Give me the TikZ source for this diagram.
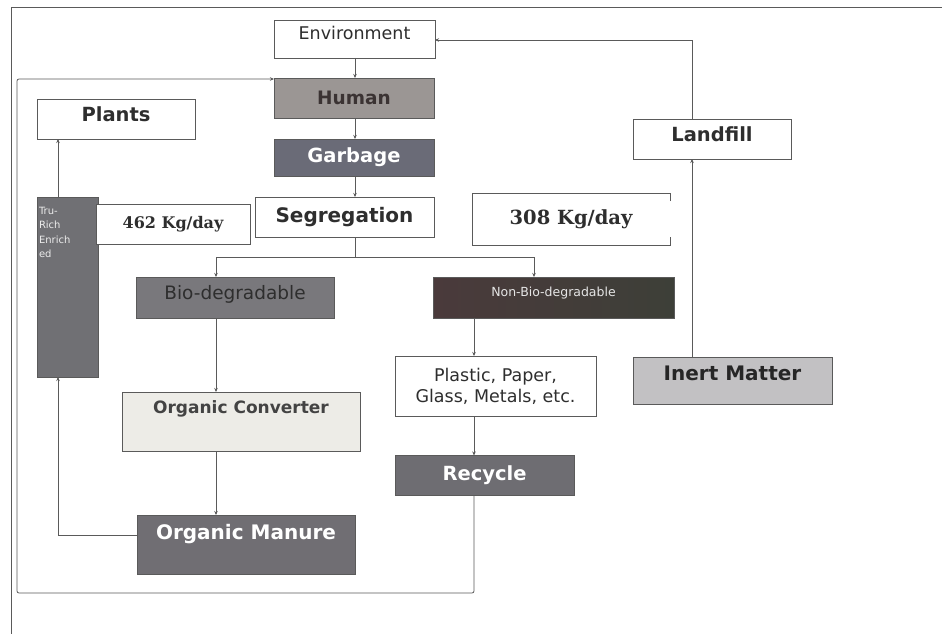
\documentclass[tikz,border=0pt]{standalone}
\usepackage{fontspec}
\setmainfont{DejaVu Sans}
\newfontfamily\serifb{DejaVu Serif}
\usetikzlibrary{arrows.meta,calc}
\definecolor{linec}{HTML}{5A5A5A}
\definecolor{humanfill}{HTML}{9B9694}
\definecolor{garbfill}{HTML}{6A6B77}
\definecolor{trufill}{HTML}{707074}
\definecolor{biofill}{HTML}{79787C}
\definecolor{nonbiofill}{HTML}{4A3A3B}
\definecolor{nonbiofillr}{HTML}{3D3F38}
\definecolor{recyfill}{HTML}{6E6D72}
\definecolor{manfill}{HTML}{706E73}
\definecolor{inertfill}{HTML}{C2C1C3}
\definecolor{convfill}{HTML}{EDECE7}
\definecolor{txtdark}{HTML}{2E2E2E}
\definecolor{humantxt}{HTML}{3B3333}
\begin{document}
\begin{tikzpicture}[x=1pt,y=-1pt,
  box/.style={draw=linec, line width=0.8pt, inner sep=0pt, outer sep=0pt, align=center, text=txtdark},
  arr/.style={draw=linec, line width=0.8pt, -{Stealth[length=4pt,width=3.5pt]}},
  ln/.style={draw=linec, line width=0.8pt}]
\useasboundingbox (0,0) rectangle (942,634);
\fill[white] (0,0) rectangle (942,634);
% frame
\draw[line width=1pt, draw=linec] (11,634) -- (11,8) -- (942,8);

% nodes
\node[box, minimum width=161, text height=20, text depth=18, font=\fontsize{17.5}{20}\selectfont] (env) at (354.5,39) {Environment};
\node[box, fill=humanfill, minimum width=160, minimum height=40, font=\bfseries\fontsize{18.5}{20}\selectfont, text=humantxt] (human) at (354,98) {Human};
\node[box, fill=garbfill, minimum width=160, minimum height=37, font=\bfseries\fontsize{19.5}{21}\selectfont, text=white] (garb) at (354,157.5) {Garbage};
\node[box, minimum width=179, minimum height=40, font=\bfseries\fontsize{20}{22}\selectfont] (seg) at (344.5,217) {Segregation};
\node[box, minimum width=158, text height=22, text depth=18, font=\bfseries\fontsize{19.5}{21}\selectfont] (plants) at (116,119) {Plants};
\node[box, fill=trufill, minimum width=61, text width=57, align=left, text height=17, text depth=163, font=\fontsize{10}{14.5}\selectfont, text=white!85!gray] (tru) at (67.5,287) {Tru-\\Rich\\Enrich\\ed};
\node[box, fill=white, minimum width=154, minimum height=40, font=\serifb\bfseries\fontsize{16}{18}\selectfont] (k462) at (173,224) {462 Kg/day};
\node[inner sep=0pt, outer sep=0pt, minimum width=198, minimum height=52, font=\serifb\bfseries\fontsize{19.5}{21}\selectfont, text=txtdark] (k308) at (571,219) {308 Kg/day};
\draw[ln] ($(k308.north east)+(0,8)$) -- (k308.north east) -- (k308.north west) -- (k308.south west) -- (k308.south east) -- ++(0,-8);
\node[box, minimum width=158, text height=22, text depth=18, font=\bfseries\fontsize{19.5}{21}\selectfont] (land) at (712,139) {Landfill};
\node[box, fill=biofill, minimum width=198, text height=22, text depth=19, font=\fontsize{18.5}{20}\selectfont, text=txtdark] (bio) at (235,297.5) {Bio-degradable};
\node[box, left color=nonbiofill, right color=nonbiofillr, minimum width=241, text height=19, text depth=22, font=\fontsize{12.5}{14}\selectfont, text=white!80!gray] (nonbio) at (553.5,297.5) {Non-Bio-degradable};
\node[box, minimum width=201, minimum height=60, font=\fontsize{17.5}{21}\selectfont] (plast) at (495.5,386) {Plastic, Paper,\\Glass, Metals, etc.};
\node[box, fill=inertfill, minimum width=199, text height=23.5, text depth=23.5, font=\bfseries\fontsize{20}{22}\selectfont, text=black!85] (inert) at (732.5,380.5) {Inert Matter};
\node[box, fill=recyfill, minimum width=179, text height=25, text depth=15, font=\bfseries\fontsize{19.5}{21}\selectfont, text=white] (recy) at (484.5,475.5) {Recycle};
\node[box, fill=convfill, minimum width=238, text height=21, text depth=38, font=\bfseries\fontsize{17}{19}\selectfont, text=txtdark!90] (conv) at (241,421.5) {Organic Converter};
\node[box, fill=manfill, minimum width=218, text height=24, text depth=35, font=\bfseries\fontsize{20}{22}\selectfont, text=white] (man) at (246,544.5) {Organic Manure};

% helper coordinates
\coordinate (cx) at (355,0);
\coordinate (bx) at (216,0);
\coordinate (nx) at (534,0);
\coordinate (px) at (474,0);
\coordinate (tx) at (58,0);
\coordinate (lx) at (692,0);
\coordinate (my) at (0,535);
\coordinate (ly) at (0,40);
\coordinate (hy) at (0,79);
\coordinate (by) at (0,593);
\coordinate (lfx) at (17,0);

% connectors
\draw[arr] (env.south -| cx) -- (human.north -| cx);
\draw[arr] (human.south -| cx) -- (garb.north -| cx);
\draw[arr] (garb.south -| cx) -- (seg.north -| cx);
\draw[ln] (seg.south -| cx) -- ++(0,20) coordinate (split);
\draw[arr] (split) -| (bio.north -| bx);
\draw[arr] (split) -| (nonbio.north -| nx);
\draw[arr] (bio.south -| bx) -- (conv.north -| bx);
\draw[arr] (conv.south -| bx) -- (man.north -| bx);
\draw[arr] (man.west |- my) -| (tru.south -| tx);
\draw[arr] (tru.north -| tx) -- (plants.south -| tx);
\draw[arr] (nonbio.south -| px) -- (plast.north -| px);
\draw[arr] (plast.south -| px) -- (recy.north -| px);
\draw[arr, rounded corners=2pt] (recy.south -| px) -- (px |- by) -- (lfx |- by) -- (lfx |- hy) -- (human.west |- hy);
\draw[arr] (inert.north -| lx) -- (land.south -| lx);
\draw[arr] (land.north -| lx) -- (lx |- ly) -- (env.east |- ly);
\end{tikzpicture}
\end{document}
